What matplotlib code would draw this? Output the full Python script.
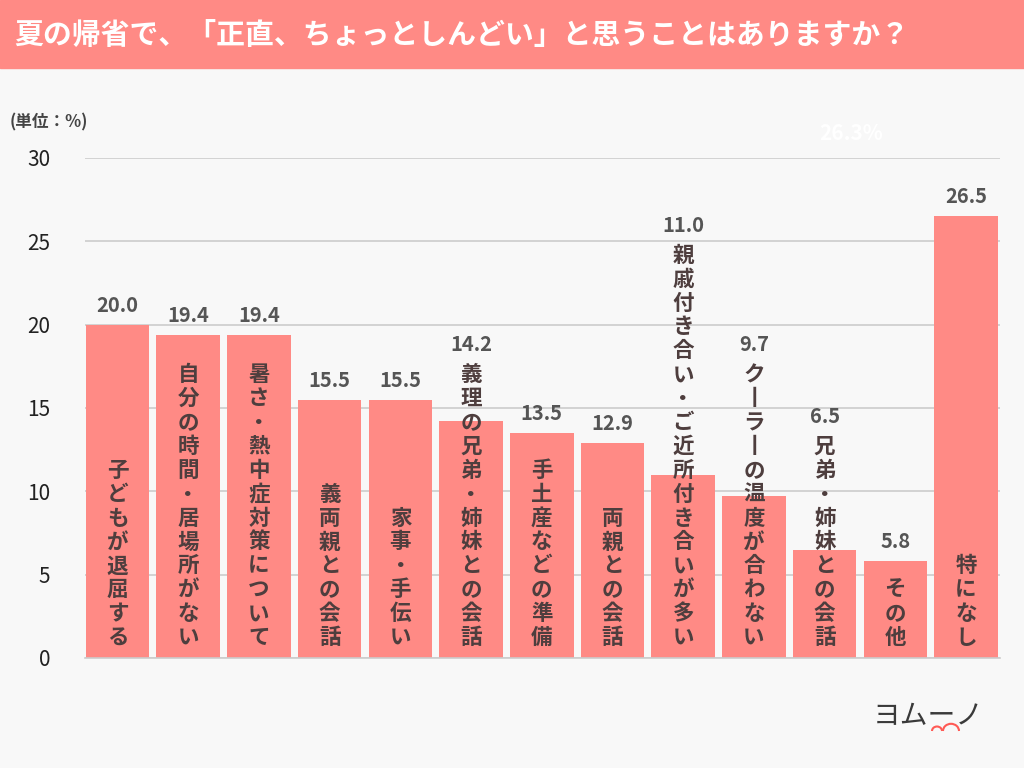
import matplotlib
matplotlib.use('Agg')
import matplotlib.pyplot as plt
from matplotlib.patches import Rectangle, Arc

plt.rcParams['font.family'] = ['Noto Sans CJK JP', 'DejaVu Sans']

# data
categories = [
    '子どもが退屈する', '自分の時間・居場所がない', '暑さ・熱中症対策について',
    '義両親との会話', '家事・手伝い', '義理の兄弟・姉妹との会話',
    '手土産などの準備', '両親との会話', '親戚付き合い・ご近所付き合いが多い',
    'クーラーの温度が合わない', '兄弟・姉妹との会話', 'その他', '特になし']
values = [20.0, 19.4, 19.4, 15.5, 15.5, 14.2, 13.5, 12.9, 11.0, 9.7, 6.5, 5.8, 26.5]
yticks = [0, 5, 10, 15, 20, 25, 30]
title = '夏の帰省で、「正直、ちょっとしんどい」と思うことはありますか？'

PINK = '#FF8A85'
BG = '#F8F8F8'
LABEL = '#4E3E3E'


def vertical(s):
    # one character per line; long vowel mark turned upright as in tategaki
    return '\n'.join('丨' if c == 'ー' else c for c in s)


fig = plt.figure(figsize=(10.24, 7.68), dpi=100, facecolor=BG)

# header band
fig.patches.append(Rectangle((0, 1 - 68 / 768), 1, 68 / 768,
                             transform=fig.transFigure, color=PINK, zorder=0))
fig.text(14 / 1024, 1 - 35 / 768, title, color='white', fontsize=20.8,
         fontweight='bold', va='center', ha='left')
fig.text(10 / 1024, 1 - 122 / 768, '(単位：%)', color='#444444', fontsize=12,
         fontweight='bold', va='center', ha='left')
fig.text(851 / 1024, 1 - 133 / 768, '26.3%', color='white', fontsize=15,
         fontweight='bold', va='center', ha='center')

ax = fig.add_axes([85 / 1024, 110 / 768, 915 / 1024, 500 / 768])
ax.set_facecolor(BG)
x = list(range(len(values)))
ax.bar(x, values, width=0.9, color=PINK, zorder=2)
ax.set_ylim(0, 30)
ax.set_xlim(-0.46, 12.48)
ax.set_yticks(yticks)
ax.set_xticks([])
ax.yaxis.grid(True, color='#CCCCCC', linewidth=1.2, zorder=0)
for s in ['top', 'right', 'left']:
    ax.spines[s].set_visible(False)
ax.spines['bottom'].set_color('#CCCCCC')
ax.spines['bottom'].set_linewidth(1.2)
ax.tick_params(axis='y', length=0, pad=25, labelsize=15, labelcolor='#222222')

# vertical labels sitting at the bottom of the bar
px_per_unit = 500 / 30
labels = []
for i, cat in enumerate(categories):
    t = ax.text(i, 10 / px_per_unit, vertical(cat), ha='center', va='bottom',
                multialignment='center', fontsize=15.5, fontweight='bold',
                color=LABEL, linespacing=1.17, zorder=3)
    labels.append(t)

fig.canvas.draw()
renderer = fig.canvas.get_renderer()
inv = ax.transData.inverted()
for i, (v, t) in enumerate(zip(values, labels)):
    bb = t.get_window_extent(renderer)
    top = inv.transform((0, bb.y1))[1]
    y = max(v, top) + 9 / px_per_unit
    ax.text(i, y, '{:.1f}'.format(v), ha='center', va='bottom', fontsize=14.5,
            fontweight='bold', color='#555555', zorder=3)

# logo
fig.text(928 / 1024, 1 - 716 / 768, 'ヨムーノ', color='#3A3A3A', fontsize=20,
         va='center', ha='center')
for cx, w in [(937, 10), (951, 16)]:
    fig.patches.append(Arc((cx / 1024, 1 - 731 / 768), w / 1024, w * 0.9 / 768,
                           theta1=0, theta2=180, transform=fig.transFigure,
                           color='#FF5A55', linewidth=1.5))

fig.savefig('out.png', dpi=100, facecolor=BG)
